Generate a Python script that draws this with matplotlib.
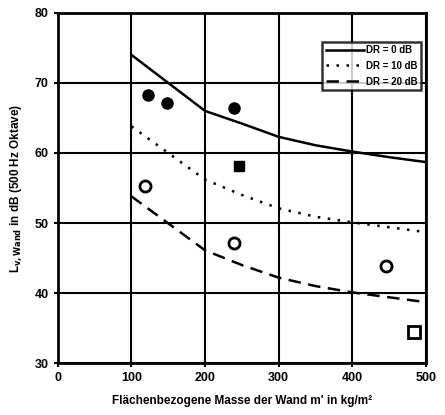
import numpy as np
import matplotlib
matplotlib.use('Agg')
import matplotlib.pyplot as plt

# reference curves (m' in kg/m^2, L in dB)
mass = [100, 200, 250, 300, 350, 400, 450, 500]
dr0 = [74.0, 66.0, 64.2, 62.3, 61.1, 60.2, 59.4, 58.7]
dr10 = [63.8, 56.2, 54.0, 52.1, 50.9, 50.1, 49.4, 48.7]
dr20 = [53.8, 46.1, 44.0, 42.2, 41.0, 40.1, 39.4, 38.7]

# measurements
filled_circ_x = [122, 148, 240]
filled_circ_y = [68.3, 67.1, 66.4]
filled_sq_x = [246]
filled_sq_y = [58.2]
open_circ_x = [118, 239, 446]
open_circ_y = [55.3, 47.1, 43.8]
open_sq_x = [484]
open_sq_y = [34.5]

plt.rcParams['font.family'] = ['Liberation Sans', 'DejaVu Sans']
plt.rcParams['font.weight'] = 'bold'

fig = plt.figure(figsize=(4.45, 4.15), dpi=100)
ax = fig.add_axes([0.130, 0.125, 0.827, 0.844])

ax.plot(mass, dr0, color='black', lw=1.8, ls='-', label='DR = 0 dB')
ax.plot(mass, dr10, color='black', lw=1.8, ls=(0, (1, 3)), label='DR = 10 dB')
ax.plot(mass, dr20, color='black', lw=1.8, ls=(0, (5, 3)), label='DR = 20 dB')

ax.plot(filled_circ_x, filled_circ_y, 'o', color='black', ms=8)
ax.plot(filled_sq_x, filled_sq_y, 's', color='black', ms=7)
ax.plot(open_circ_x, open_circ_y, 'o', mfc='white', mec='black', mew=2, ms=8)
ax.plot(open_sq_x, open_sq_y, 's', mfc='white', mec='black', mew=2, ms=8)

ax.set_xlim(0, 500)
ax.set_ylim(30, 80)
ax.set_xticks(np.arange(0, 501, 100))
ax.set_yticks(np.arange(30, 81, 10))
ax.grid(True, color='black', lw=1.5)
for s in ax.spines.values():
    s.set_linewidth(2)
ax.tick_params(direction='out', length=3, width=1.5, labelsize=9)
for lbl in ax.get_xticklabels() + ax.get_yticklabels():
    lbl.set_fontweight('bold')

ax.set_xlabel("Flächenbezogene Masse der Wand m' in kg/m²", fontsize=8.5,
              fontweight='bold', labelpad=8)
ax.set_ylabel(r'L$_{\mathbf{v,Wand}}$ in dB (500 Hz Oktave)', fontsize=8.5,
              fontweight='bold', labelpad=8)

leg = ax.legend(loc='upper right', bbox_to_anchor=(0.988, 0.918), fontsize=7,
                frameon=True, fancybox=False, edgecolor='black', handlelength=4.0,
                borderpad=0.35, labelspacing=0.6, handletextpad=0.2,
                borderaxespad=0.0)
leg.get_frame().set_linewidth(1.8)
for t in leg.get_texts():
    t.set_fontweight('bold')

fig.savefig('out.png', dpi=100)
